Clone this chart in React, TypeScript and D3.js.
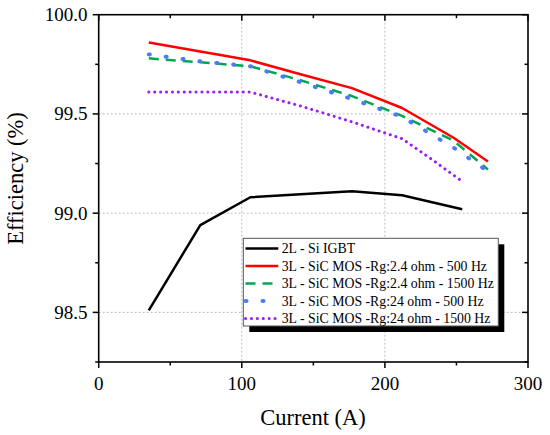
import { useEffect, useRef } from "react";
import * as d3 from "d3";

// currents (A)
const currentSi = [35, 71, 106, 141, 177, 212, 254];
const current3L = [35, 71, 106, 141, 177, 212, 248, 272];
const currentRg24Hi = [35, 71, 106, 141, 177, 212, 233, 254];

// efficiencies (%)
const effSiIgbt = [98.51, 98.94, 99.08, 99.095, 99.11, 99.09, 99.02];
const effRg24Lo500 = [99.86, 99.815, 99.77, 99.7, 99.63, 99.53, 99.38, 99.26];
const effRg24Lo1500 = [99.78, 99.76, 99.74, 99.67, 99.59, 99.49, 99.365, 99.22];
const effRg24Hi500 = [99.8, 99.765, 99.74, 99.66, 99.575, 99.485, 99.33, 99.21];
const effRg24Hi1500 = [99.61, 99.61, 99.61, 99.54, 99.46, 99.375, 99.27, 99.16];

const seriesNames = [
  "2L - Si IGBT",
  "3L - SiC MOS -Rg:2.4 ohm - 500 Hz",
  "3L - SiC MOS -Rg:2.4 ohm - 1500 Hz",
  "3L - SiC MOS -Rg:24 ohm - 500 Hz",
  "3L - SiC MOS -Rg:24 ohm - 1500 Hz",
];

const xTicks = [0, 100, 200, 300];
const yTicks = [98.5, 99.0, 99.5, 100.0];

export default function App() {
  const svgRef = useRef<SVGSVGElement | null>(null);

  useEffect(() => {
    if (!svgRef.current) return;
    const svg = d3.select(svgRef.current);
    svg.selectAll("*").remove();

    const left = 98.7, right = 528, top = 14.7, bottom = 362;

    const x = d3.scaleLinear().domain([0, 300]).range([left, right]);
    const y = d3.scaleLinear().domain([98.25, 100]).range([bottom, top]);

    // grid
    const grid = svg.append("g");
    [100, 200].forEach((v) => {
      grid.append("line")
        .attr("x1", x(v)).attr("x2", x(v))
        .attr("y1", top).attr("y2", bottom)
        .attr("stroke", "#bdbdbd").attr("stroke-width", 1)
        .attr("stroke-dasharray", "2,2");
    });
    [98.5, 99.0, 99.5].forEach((v) => {
      grid.append("line")
        .attr("x1", left).attr("x2", right)
        .attr("y1", y(v)).attr("y2", y(v))
        .attr("stroke", "#bdbdbd").attr("stroke-width", 1)
        .attr("stroke-dasharray", "2,2");
    });

    // series
    const series = [
      { xs: currentSi, ys: effSiIgbt, color: "#000000", width: 2.5, dash: null, cap: "butt" },
      { xs: current3L, ys: effRg24Lo500, color: "#ff0000", width: 2.5, dash: null, cap: "butt" },
      { xs: current3L, ys: effRg24Lo1500, color: "#00a651", width: 2.5, dash: "10,7", cap: "butt" },
      { xs: current3L, ys: effRg24Hi500, color: "#4a7cf4", width: 4, dash: "1,16", cap: "round" },
      { xs: currentRg24Hi, ys: effRg24Hi1500, color: "#9b1ff0", width: 3, dash: "0.1,5.8", cap: "round" },
    ];

    const line = d3.line<[number, number]>()
      .x((d) => x(d[0]))
      .y((d) => y(d[1]));

    series.forEach((s) => {
      const pts = s.xs.map((v, i) => [v, s.ys[i]] as [number, number]);
      svg.append("path")
        .attr("d", line(pts))
        .attr("fill", "none")
        .attr("stroke", s.color)
        .attr("stroke-width", s.width)
        .attr("stroke-linecap", s.cap)
        .attr("stroke-linejoin", "round")
        .attr("stroke-dasharray", s.dash);
    });

    // frame
    svg.append("rect")
      .attr("x", left).attr("y", top)
      .attr("width", right - left).attr("height", bottom - top)
      .attr("fill", "none").attr("stroke", "#000").attr("stroke-width", 1.6);

    const ticks = svg.append("g").attr("stroke", "#000").attr("stroke-width", 1.5);
    d3.range(0, 301, 50).forEach((v) => {
      const len = v % 100 === 0 ? 6 : 3.5;
      ticks.append("line").attr("x1", x(v)).attr("x2", x(v)).attr("y1", bottom).attr("y2", bottom + len);
      ticks.append("line").attr("x1", x(v)).attr("x2", x(v)).attr("y1", top).attr("y2", top + len);
    });
    d3.range(98.25, 100.01, 0.25).forEach((v) => {
      const len = Math.abs(v * 2 - Math.round(v * 2)) < 1e-6 ? 6 : 3.5;
      ticks.append("line").attr("x1", left - len).attr("x2", left).attr("y1", y(v)).attr("y2", y(v));
      ticks.append("line").attr("x1", right - len).attr("x2", right).attr("y1", y(v)).attr("y2", y(v));
    });

    const texts = svg.append("g")
      .attr("font-family", "Liberation Serif, Times New Roman, serif")
      .attr("fill", "#000");

    // tick labels
    xTicks.forEach((v) => {
      texts.append("text")
        .attr("x", x(v)).attr("y", 389.5)
        .attr("text-anchor", "middle")
        .attr("font-size", 19)
        .text(String(v));
    });
    yTicks.forEach((v) => {
      texts.append("text")
        .attr("x", 87.5).attr("y", y(v))
        .attr("dy", "0.34em")
        .attr("text-anchor", "end")
        .attr("font-size", 19)
        .text(d3.format(".1f")(v));
    });

    // axis titles
    texts.append("text")
      .attr("x", 313).attr("y", 425)
      .attr("text-anchor", "middle")
      .attr("font-size", 22.5)
      .text("Current (A)");
    texts.append("text")
      .attr("transform", "translate(23,178.5) rotate(-90)")
      .attr("text-anchor", "middle")
      .attr("font-size", 22.5)
      .text("Efficiency (%)");

    // legend
    const lx = 243.3, ly = 238.3, lw = 255, lh = 87.7;
    svg.append("rect")
      .attr("x", lx + 6).attr("y", ly + 6)
      .attr("width", lw).attr("height", lh)
      .attr("fill", "#000");
    svg.append("rect")
      .attr("x", lx).attr("y", ly)
      .attr("width", lw).attr("height", lh)
      .attr("fill", "#fff").attr("stroke", "#555").attr("stroke-width", 1);

    seriesNames.forEach((name, i) => {
      const s = series[i];
      const ry = 248.5 + i * 17.5;
      svg.append("line")
        .attr("x1", 245.5).attr("x2", 278.3)
        .attr("y1", ry).attr("y2", ry)
        .attr("stroke", s.color)
        .attr("stroke-width", s.width)
        .attr("stroke-linecap", s.cap)
        .attr("stroke-dasharray", s.dash);
      svg.append("text")
        .attr("x", 281.7).attr("y", ry)
        .attr("dy", "0.35em")
        .attr("font-family", "Liberation Serif, Times New Roman, serif")
        .attr("font-size", 13.8)
        .text(name);
    });
  }, []);

  return (
    <svg
      ref={svgRef}
      width={550}
      height={435}
      style={{ position: "absolute", left: 0, top: 0, background: "#fff" }}
    />
  );
}
